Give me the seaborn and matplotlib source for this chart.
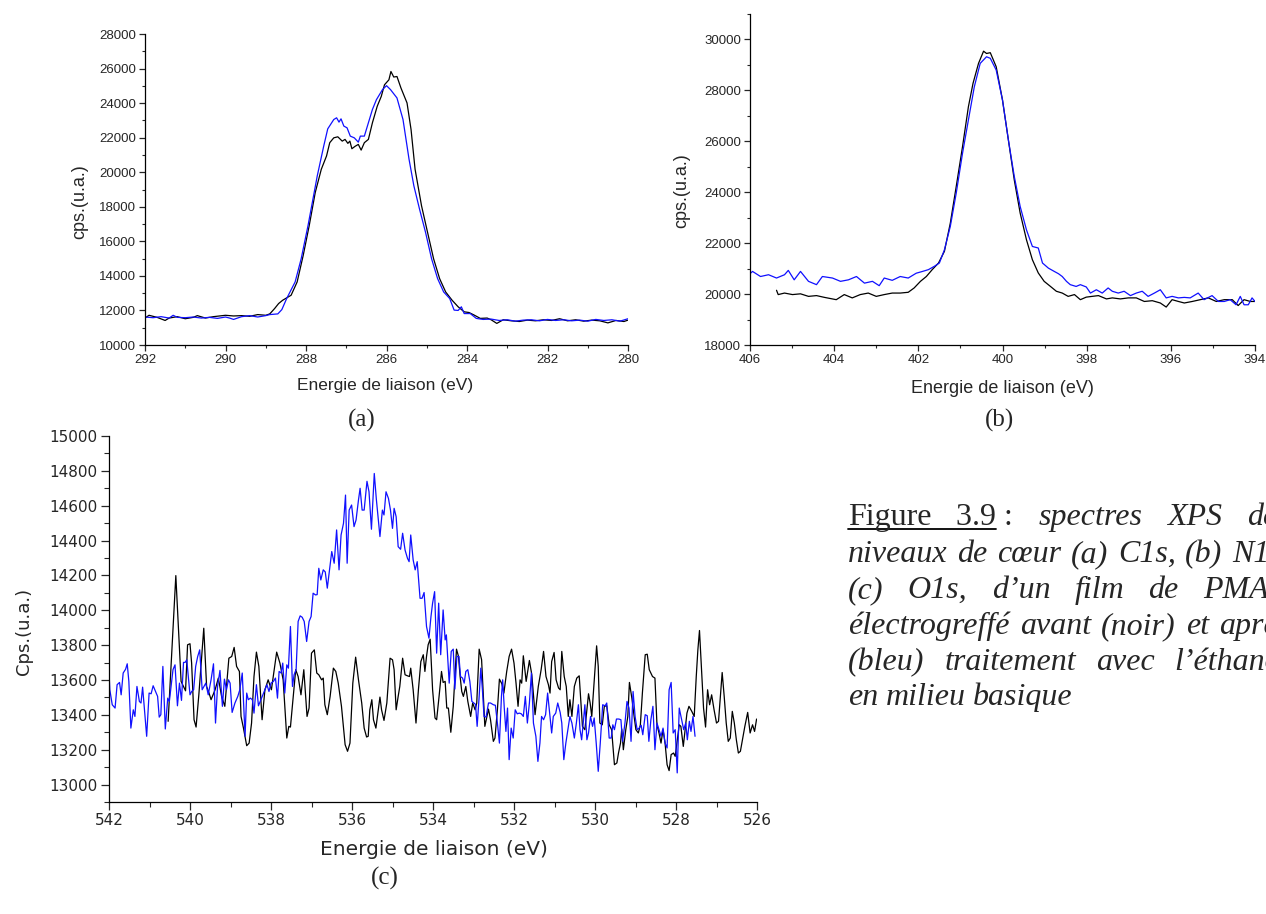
import numpy as np
import pandas as pd
import seaborn as sns
import matplotlib
matplotlib.use("Agg")
import matplotlib.pyplot as plt
from matplotlib.ticker import MultipleLocator
from matplotlib.lines import Line2D

# ---- (a) C1s ----
a_energy_noir = [292.0, 291.9, 291.7, 291.5, 291.4, 291.2, 291.0, 290.8, 290.7, 290.5, 290.3, 290.0,
                 289.8, 289.6, 289.4, 289.2, 289.0, 288.9, 288.78, 288.68, 288.58, 288.37, 288.22,
                 288.07, 287.92, 287.77, 287.62, 287.49, 287.41, 287.31, 287.21, 287.1, 287.03,
                 286.96, 286.91, 286.86, 286.78, 286.7, 286.63, 286.55, 286.45, 286.35, 286.23,
                 286.13, 286.05, 285.94, 285.89, 285.82, 285.74, 285.64, 285.49, 285.39, 285.29,
                 285.13, 284.98, 284.83, 284.68, 284.53, 284.37, 284.22, 284.07, 283.95, 283.82,
                 283.67, 283.5, 283.4, 283.26, 283.1, 282.9, 282.7, 282.5, 282.3, 282.1, 281.9,
                 281.7, 281.5, 281.3, 281.1, 280.9, 280.7, 280.5, 280.3, 280.1, 280.0]
a_cps_noir = [11560, 11720, 11600, 11420, 11560, 11640, 11520, 11600, 11700, 11560, 11640, 11720,
              11680, 11700, 11660, 11760, 11720, 11800, 12110, 12400, 12590, 12880, 13650,
              15180, 16910, 18830, 20170, 20940, 21710, 21990, 22050, 21800, 21900,
              21670, 21800, 21360, 21500, 21610, 21280, 21710, 21900, 22860, 23820,
              24390, 25060, 25350, 25830, 25510, 25540, 24870, 24010, 22470, 20170,
              18060, 16520, 14990, 13840, 13070, 12590, 12210, 11920, 11880, 11730,
              11540, 11560, 11460, 11250, 11460, 11400, 11360, 11440, 11400, 11460, 11420,
              11520, 11400, 11460, 11380, 11440, 11400, 11280, 11420, 11360, 11440]
a_energy_bleu = [292.0, 291.8, 291.6, 291.4, 291.3, 291.2, 291.0, 290.8, 290.6, 290.4, 290.2, 290.0,
                 289.9, 289.8, 289.6, 289.4, 289.2, 289.0, 288.9, 288.7, 288.6, 288.48, 288.27,
                 288.12, 287.95, 287.72, 287.56, 287.46, 287.31, 287.24, 287.18, 287.13, 287.06,
                 286.98, 286.9, 286.8, 286.7, 286.65, 286.55, 286.45, 286.35, 286.25, 286.1,
                 286.0, 285.9, 285.74, 285.59, 285.44, 285.32, 285.18, 285.03, 284.88, 284.73,
                 284.58, 284.43, 284.32, 284.22, 284.14, 284.07, 283.92, 283.77, 283.6, 283.4,
                 283.2, 283.0, 282.8, 282.6, 282.4, 282.2, 282.0, 281.8, 281.6, 281.4, 281.2,
                 281.0, 280.8, 280.6, 280.4, 280.2, 280.0]
a_cps_bleu = [11620, 11580, 11640, 11560, 11720, 11600, 11580, 11620, 11560, 11600, 11540, 11620,
              11560, 11480, 11640, 11700, 11620, 11700, 11760, 11800, 12050, 12690, 13650,
              14990, 16910, 19790, 21510, 22510, 23050, 23150, 22900, 23090, 22670,
              22570, 22090, 21990, 21740, 22090, 22090, 22860, 23630, 24200, 24780,
              25010, 24780, 24300, 23050, 20750, 19210, 17870, 16520, 14990, 13840,
              13070, 12690, 12020, 12000, 12210, 11820, 11820, 11540, 11480, 11500,
              11420, 11460, 11380, 11440, 11460, 11400, 11480, 11420, 11460, 11400, 11440,
              11380, 11480, 11420, 11460, 11380, 11520]

# ---- (b) N1s ----
b_energy_noir = [405.37, 405.33, 405.18, 404.99, 404.8, 404.61, 404.42, 404.23, 403.95, 403.76,
                 403.57, 403.38, 403.19, 403.0, 402.81, 402.62, 402.43, 402.24, 402.1, 401.95,
                 401.81, 401.67, 401.52, 401.38, 401.24, 401.1, 400.95, 400.81, 400.7, 400.57,
                 400.45, 400.38, 400.29, 400.15, 400.0, 399.86, 399.72, 399.58, 399.43, 399.29,
                 399.15, 399.01, 398.86, 398.72, 398.58, 398.44, 398.29, 398.15, 398.01, 397.87,
                 397.72, 397.53, 397.39, 397.2, 397.01, 396.82, 396.63, 396.44, 396.25, 396.11,
                 395.97, 395.82, 395.68, 395.49, 395.3, 395.11, 394.92, 394.73, 394.54, 394.4,
                 394.26, 394.11, 394.0]
b_cps_noir = [20150, 19980, 20040, 19980, 20010, 19910, 19940, 19870, 19780, 19980,
              19850, 19980, 20040, 19910, 19980, 20040, 20040, 20070, 20240, 20500,
              20690, 20960, 21220, 21680, 22790, 24220, 25790, 27360, 28280, 29060,
              29540, 29450, 29480, 28930, 27620, 26050, 24480, 23180, 22130, 21350,
              20830, 20500, 20300, 20110, 20040, 19910, 19980, 19780, 19880, 19910,
              19940, 19810, 19850, 19810, 19850, 19850, 19710, 19740, 19650, 19490,
              19780, 19710, 19650, 19710, 19780, 19850, 19710, 19780, 19780, 19550,
              19780, 19710, 19710]
b_energy_bleu = [406.0, 405.94, 405.75, 405.56, 405.37, 405.18, 405.09, 404.95, 404.8, 404.61,
                 404.42, 404.28, 404.04, 403.85, 403.66, 403.47, 403.28, 403.09, 402.93, 402.81,
                 402.62, 402.43, 402.24, 402.05, 401.9, 401.76, 401.62, 401.5, 401.38, 401.24,
                 401.1, 400.95, 400.81, 400.67, 400.53, 400.38, 400.29, 400.15, 400.0, 399.86,
                 399.72, 399.58, 399.43, 399.29, 399.15, 399.05, 398.91, 398.77, 398.67, 398.58,
                 398.48, 398.39, 398.25, 398.15, 398.01, 397.91, 397.77, 397.63, 397.49, 397.39,
                 397.25, 397.11, 396.96, 396.82, 396.68, 396.54, 396.39, 396.25, 396.11, 395.97,
                 395.82, 395.68, 395.54, 395.35, 395.21, 395.02, 394.87, 394.73, 394.59, 394.45,
                 394.35, 394.26, 394.16, 394.07, 394.0]
b_cps_bleu = [20800, 20890, 20690, 20760, 20630, 20760, 20930, 20560, 20890, 20500,
              20370, 20690, 20630, 20500, 20560, 20690, 20430, 20500, 20330, 20630,
              20540, 20690, 20630, 20820, 20890, 20960, 21090, 21220, 21740, 22660,
              23960, 25530, 26840, 28140, 29060, 29320, 29260, 28800, 27620, 26050,
              24620, 23440, 22520, 21870, 21810, 21220, 21020, 20890, 20800, 20690,
              20500, 20370, 20300, 20370, 20280, 20040, 20170, 20040, 20240, 20110,
              20040, 20110, 19940, 20040, 20110, 19910, 20040, 20170, 19850, 19910,
              19850, 19870, 19850, 20040, 19780, 19940, 19710, 19710, 19780, 19580,
              19910, 19580, 19580, 19850, 19710]

# ---- (c) O1s ----
c_energy_noir = [540.54, 540.35, 540.22, 540.11, 540.06, 540.0, 539.96, 539.9, 539.85, 539.78,
                 539.66, 539.59, 539.53, 539.48, 539.38, 539.3, 539.22, 539.14, 539.04, 538.97,
                 538.91, 538.85, 538.78, 538.74, 538.68, 538.6, 538.54, 538.48, 538.42, 538.36,
                 538.3, 538.22, 538.15, 538.07, 537.99, 537.86, 537.78, 537.7, 537.61, 537.56,
                 537.52, 537.45, 537.39, 537.33, 537.26, 537.19, 537.11, 537.06, 537.0, 536.93,
                 536.87, 536.82, 536.75, 536.71, 536.67, 536.61, 536.54, 536.46, 536.4, 536.34,
                 536.26, 536.17, 536.11, 536.05, 535.98, 535.91, 535.84, 535.76, 535.7, 535.64,
                 535.6, 535.56, 535.51, 535.47, 535.41, 535.35, 535.31, 535.27, 535.21, 535.14,
                 535.06, 535.0, 534.96, 534.91, 534.86, 534.82, 534.75, 534.69, 534.63, 534.58,
                 534.55, 534.49, 534.42, 534.36, 534.3, 534.24, 534.2, 534.16, 534.12, 534.07,
                 534.01, 533.95, 533.91, 533.85, 533.79, 533.75, 533.7, 533.66, 533.62, 533.56,
                 533.5, 533.42, 533.37, 533.33, 533.29, 533.25, 533.19, 533.14, 533.07, 533.02,
                 532.96, 532.92, 532.86, 532.8, 532.72, 532.63, 532.58, 532.51, 532.47, 532.41,
                 532.36, 532.3, 532.25, 532.18, 532.12, 532.06, 532.0, 531.95, 531.9, 531.85,
                 531.81, 531.77, 531.7, 531.62, 531.56, 531.48, 531.4, 531.33, 531.27, 531.21,
                 531.15, 531.11, 531.07, 531.01, 530.96, 530.9, 530.86, 530.82, 530.76, 530.71,
                 530.66, 530.62, 530.57, 530.51, 530.45, 530.39, 530.31, 530.25, 530.16, 530.12,
                 530.08, 529.96, 529.92, 529.88, 529.82, 529.77, 529.71, 529.65, 529.59, 529.52,
                 529.46, 529.42, 529.37, 529.34, 529.3, 529.24, 529.19, 529.15, 529.09, 529.04,
                 528.99, 528.93, 528.88, 528.83, 528.76, 528.71, 528.66, 528.58, 528.52, 528.47,
                 528.42, 528.37, 528.32, 528.27, 528.22, 528.17, 528.12, 528.06, 528.02, 527.92,
                 527.88, 527.82, 527.73, 527.68, 527.61, 527.55, 527.5, 527.46, 527.42, 527.36,
                 527.32, 527.27, 527.22, 527.17, 527.12, 527.06, 527.0, 526.95, 526.91, 526.86,
                 526.81, 526.76, 526.71, 526.66, 526.61, 526.56, 526.51, 526.46, 526.41, 526.3,
                 526.23, 526.17, 526.11, 526.06, 526.01]
c_cps_noir = [13363, 14199, 13592, 13538, 13802, 13808, 13697, 13372, 13330, 13520,
              13897, 13563, 13525, 13487, 13544, 13611, 13506, 13449, 13725, 13735,
              13787, 13678, 13649, 13391, 13324, 13223, 13238, 13353, 13620, 13760,
              13678, 13372, 13544, 13601, 13544, 13760, 13697, 13601, 13267, 13334,
              13330, 13506, 13659, 13620, 13515, 13659, 13391, 13439, 13754, 13773,
              13640, 13630, 13601, 13611, 13458, 13401, 13506, 13668, 13649, 13582,
              13449, 13229, 13191, 13238, 13582, 13731, 13601, 13468, 13324, 13273,
              13277, 13429, 13487, 13372, 13324, 13429, 13502, 13429, 13368, 13468,
              13725, 13716, 13659, 13429, 13506, 13563, 13725, 13630, 13624, 13620,
              13668, 13544, 13353, 13544, 13706, 13745, 13649, 13735, 13802, 13834,
              13544, 13382, 13372, 13506, 13649, 13586, 13592, 13439, 13439, 13300,
              13449, 13777, 13735, 13620, 13534, 13506, 13563, 13477, 13391, 13468,
              13429, 13468, 13777, 13716, 13334, 13433, 13372, 13248, 13267, 13429,
              13605, 13578, 13525, 13649, 13735, 13777, 13697, 13582, 13449, 13601,
              13582, 13739, 13592, 13712, 13630, 13401, 13563, 13659, 13764, 13620,
              13573, 13525, 13706, 13758, 13601, 13554, 13544, 13764, 13620, 13563,
              13391, 13487, 13391, 13563, 13611, 13624, 13334, 13315, 13521, 13468,
              13391, 13796, 13678, 13353, 13343, 13449, 13452, 13343, 13315, 13114,
              13124, 13181, 13238, 13319, 13200, 13315, 13391, 13586, 13496, 13401,
              13315, 13296, 13343, 13525, 13745, 13748, 13659, 13620, 13611, 13343,
              13296, 13238, 13315, 13238, 13114, 13080, 13172, 13181, 13162, 13343,
              13334, 13219, 13410, 13449, 13420, 13391, 13620, 13773, 13884, 13620,
              13439, 13330, 13544, 13458, 13515, 13429, 13353, 13363, 13487, 13643,
              13506, 13353, 13248, 13267, 13420, 13353, 13257, 13181, 13191, 13334,
              13414, 13296, 13343, 13305, 13376]
c_energy_bleu = [542.0, 541.98, 541.92, 541.85, 541.8, 541.74, 541.7, 541.65, 541.59, 541.55,
                 541.51, 541.46, 541.4, 541.36, 541.31, 541.25, 541.21, 541.17, 541.13, 541.07,
                 541.01, 540.96, 540.91, 540.85, 540.8, 540.76, 540.72, 540.67, 540.61, 540.55,
                 540.51, 540.42, 540.37, 540.31, 540.26, 540.21, 540.16, 540.12, 540.08, 540.0,
                 539.96, 539.91, 539.86, 539.81, 539.76, 539.7, 539.61, 539.55, 539.48, 539.42,
                 539.37, 539.32, 539.26, 539.2, 539.15, 539.1, 539.05, 539.01, 538.96, 538.89,
                 538.82, 538.77, 538.71, 538.64, 538.6, 538.56, 538.51, 538.46, 538.42, 538.36,
                 538.31, 538.25, 538.15, 538.1, 538.05, 538.0, 537.94, 537.89, 537.84, 537.8,
                 537.75, 537.71, 537.66, 537.61, 537.57, 537.52, 537.47, 537.43, 537.38, 537.33,
                 537.28, 537.23, 537.18, 537.12, 537.06, 537.01, 536.96, 536.9, 536.86, 536.82,
                 536.77, 536.71, 536.66, 536.61, 536.56, 536.5, 536.44, 536.38, 536.32, 536.27,
                 536.21, 536.16, 536.12, 536.07, 536.01, 535.95, 535.9, 535.84, 535.8, 535.75,
                 535.7, 535.63, 535.58, 535.52, 535.45, 535.4, 535.31, 535.25, 535.21, 535.16,
                 535.1, 535.05, 535.0, 534.96, 534.91, 534.86, 534.8, 534.75, 534.69, 534.63,
                 534.59, 534.55, 534.49, 534.44, 534.39, 534.32, 534.27, 534.22, 534.16, 534.1,
                 534.05, 534.01, 533.96, 533.91, 533.86, 533.81, 533.75, 533.7, 533.67, 533.6,
                 533.55, 533.5, 533.46, 533.41, 533.36, 533.32, 533.27, 533.23, 533.19, 533.14,
                 533.09, 533.04, 532.99, 532.95, 532.91, 532.86, 532.82, 532.78, 532.74, 532.69,
                 532.63, 532.58, 532.51, 532.46, 532.41, 532.36, 532.31, 532.28, 532.24, 532.2,
                 532.16, 532.12, 532.07, 532.02, 531.97, 531.92, 531.87, 531.82, 531.77, 531.72,
                 531.67, 531.62, 531.57, 531.52, 531.46, 531.41, 531.36, 531.32, 531.27, 531.22,
                 531.17, 531.11, 531.07, 531.03, 530.97, 530.92, 530.86, 530.82, 530.77, 530.72,
                 530.67, 530.62, 530.57, 530.51, 530.46, 530.41, 530.37, 530.33, 530.29, 530.25,
                 530.2, 530.16, 530.11, 530.06, 530.02, 529.97, 529.92, 529.87, 529.81, 529.75,
                 529.71, 529.65, 529.6, 529.56, 529.52, 529.47, 529.41, 529.36, 529.32, 529.26,
                 529.21, 529.16, 529.11, 529.06, 529.01, 528.96, 528.91, 528.86, 528.82, 528.76,
                 528.71, 528.67, 528.62, 528.57, 528.52, 528.47, 528.42, 528.37, 528.32, 528.27,
                 528.22, 528.17, 528.12, 528.07, 528.02, 527.97, 527.92, 527.86, 527.81, 527.76,
                 527.72, 527.67, 527.63, 527.58, 527.53]
c_cps_bleu = [13649, 13544, 13458, 13439, 13573, 13586, 13515, 13640, 13662, 13693,
              13592, 13324, 13429, 13391, 13563, 13477, 13468, 13559, 13449, 13277,
              13525, 13521, 13567, 13534, 13506, 13387, 13401, 13678, 13319, 13496,
              13477, 13659, 13687, 13452, 13582, 13483, 13701, 13701, 13716, 13515,
              13534, 13544, 13678, 13735, 13773, 13544, 13582, 13515, 13601, 13693,
              13353, 13563, 13655, 13449, 13605, 13544, 13601, 13582, 13414, 13468,
              13506, 13544, 13640, 13277, 13525, 13487, 13496, 13487, 13410, 13573,
              13452, 13487, 13544, 13573, 13534, 13582, 13592, 13611, 13496, 13649,
              13640, 13697, 13525, 13687, 13668, 13907, 13563, 13630, 13659, 13936,
              13968, 13960, 13936, 13821, 13936, 13964, 14098, 14088, 14090, 14241,
              14174, 14232, 14220, 14127, 14222, 14337, 14270, 14461, 14232, 14432,
              14499, 14661, 14270, 14575, 14604, 14480, 14518, 14633, 14700, 14575,
              14575, 14740, 14680, 14465, 14785, 14640, 14423, 14575, 14547, 14680,
              14642, 14575, 14470, 14585, 14537, 14365, 14350, 14442, 14346, 14298,
              14279, 14432, 14289, 14232, 14279, 14069, 14069, 14102, 13907, 13840,
              13964, 14041, 14107, 13754, 14041, 13745, 14002, 13830, 13859, 13582,
              13764, 13777, 13548, 13735, 13735, 13620, 13611, 13582, 13649, 13659,
              13592, 13477, 13468, 13460, 13334, 13506, 13668, 13544, 13391, 13387,
              13468, 13468, 13458, 13455, 13353, 13238, 13506, 13601, 13439, 13305,
              13439, 13143, 13324, 13267, 13429, 13406, 13410, 13406, 13391, 13506,
              13353, 13468, 13640, 13353, 13277, 13133, 13238, 13391, 13372, 13401,
              13525, 13391, 13296, 13391, 13410, 13468, 13414, 13353, 13143, 13238,
              13315, 13391, 13353, 13267, 13353, 13458, 13315, 13257, 13353, 13458,
              13257, 13296, 13391, 13334, 13382, 13238, 13076, 13238, 13458, 13452,
              13468, 13267, 13267, 13343, 13315, 13376, 13376, 13372, 13248, 13353,
              13477, 13439, 13248, 13534, 13391, 13315, 13324, 13340, 13286, 13401,
              13395, 13248, 13372, 13449, 13200, 13353, 13315, 13277, 13324, 13238,
              13210, 13544, 13586, 13296, 13315, 13067, 13439, 13372, 13315, 13353,
              13257, 13363, 13305, 13391, 13277]

xlabel = "Energie de liaison (eV)"

# caption words, one list per line; 'n' = upright, 'i' = italic
caption = [
    [("Figure", 'n'), ("3.9 :", 'n'), ("spectres", 'i'), ("XPS", 'i'), ("des", 'i')],
    [("niveaux", 'i'), ("de", 'i'), ("cœur", 'i'), ("(a)", 'i'), ("C1s,", 'i'), ("(b)", 'i'), ("N1s,", 'i')],
    [("(c)", 'i'), ("O1s,", 'i'), ("d’un", 'i'), ("film", 'i'), ("de", 'i'), ("PMAN", 'i')],
    [("électrogreffé", 'i'), ("avant", 'i'), ("(noir)", 'i'), ("et", 'i'), ("après", 'i')],
    [("(bleu)", 'i'), ("traitement", 'i'), ("avec", 'i'), ("l’éthanol", 'i')],
    [("en", 'i'), ("milieu", 'i'), ("basique", 'i')],
]

sns.set_style("ticks")
plt.rcParams['font.family'] = ['Liberation Sans', 'DejaVu Sans']

W, H = 1266, 914
fig = plt.figure(figsize=(W / 100, H / 100), dpi=100)


def box(l, t, r, b):
    return [l / W, 1 - b / H, (r - l) / W, (b - t) / H]


def style(ax, xlim, ylim, xmaj, ymaj, ylab, tsize, lsize, ysize, ylc, xlc, fam):
    ax.set_xlim(*xlim)
    ax.set_ylim(*ylim)
    ax.xaxis.set_major_locator(MultipleLocator(xmaj))
    ax.xaxis.set_minor_locator(MultipleLocator(xmaj / 2))
    ax.yaxis.set_major_locator(MultipleLocator(ymaj))
    ax.yaxis.set_minor_locator(MultipleLocator(ymaj / 2))
    ax.tick_params(which='major', direction='out', length=4.5, width=0.9, labelsize=tsize, pad=2)
    ax.tick_params(which='minor', direction='out', length=2.5, width=0.8)
    for lab in ax.get_xticklabels() + ax.get_yticklabels():
        lab.set_family(fam)
    sns.despine(ax=ax)
    for s in ['left', 'bottom']:
        ax.spines[s].set_linewidth(0.9)
        ax.spines[s].set_color('black')
    ax.set_xlabel(xlabel, fontsize=lsize, family=fam)
    ax.set_ylabel(ylab, fontsize=ysize, family=fam)
    ax.yaxis.set_label_coords(*ylc)
    ax.xaxis.set_label_coords(*xlc)
    ax.grid(False)


def draw(ax, e_n, c_n, e_b, c_b):
    sns.lineplot(x=e_n, y=c_n, ax=ax, color='black', lw=0.9, sort=False, estimator=None)
    sns.lineplot(x=e_b, y=c_b, ax=ax, color='#1010ff', lw=0.9, sort=False, estimator=None)


ax_a = fig.add_axes(box(145, 34, 628, 345))
draw(ax_a, a_energy_noir, a_cps_noir, a_energy_bleu, a_cps_bleu)
style(ax_a, (292, 280), (10000, 28000), 2, 2000, "cps.(u.a.)", 9.5, 12.5, 13,
      (-0.118, 0.46), (0.497, -0.105), ['Liberation Sans'])

ax_b = fig.add_axes(box(750, 14, 1255, 345))
draw(ax_b, b_energy_noir, b_cps_noir, b_energy_bleu, b_cps_bleu)
style(ax_b, (406, 394), (18000, 31000), 2, 2000, "cps.(u.a.)", 9.5, 13, 13,
      (-0.119, 0.465), (0.499, -0.105), ['Liberation Sans'])

ax_c = fig.add_axes(box(109, 436, 757, 802))
draw(ax_c, c_energy_noir, c_cps_noir, c_energy_bleu, c_cps_bleu)
style(ax_c, (542, 526), (12900, 15000), 2, 200, "Cps.(u.a.)", 11, 14.5, 13,
      (-0.117, 0.467), (0.502, -0.105), ['DejaVu Sans'])
ax_c.yaxis.set_major_locator(plt.FixedLocator(np.arange(13000, 15001, 200)))
ax_c.yaxis.set_minor_locator(plt.FixedLocator(np.arange(12900, 15001, 100)))
ax_c.tick_params(which='major', length=6)
ax_c.tick_params(which='minor', length=3.5)

serif = ['Liberation Serif', 'DejaVu Serif']
for lab, (px, py) in zip(["(a)", "(b)", "(c)"], [(362, 420), (1000, 420), (385, 878)]):
    fig.text(px / W, 1 - py / H, lab, family=serif, fontsize=18, ha='center', va='center')

# justified caption block (right margin lies past the picture edge, as in the page)
renderer = fig.canvas.get_renderer()
x_left, x_right = 848, 1290
baselines = [525, 562, 598, 634, 670, 705]
underline_end = None
for i, (words, yb) in enumerate(zip(caption, baselines)):
    texts = [fig.text(0, 1 - yb / H, w, family=serif, fontsize=23,
                      style='italic' if s == 'i' else 'normal', ha='left', va='baseline')
             for w, s in words]
    widths = [t.get_window_extent(renderer).width for t in texts]
    if i < len(caption) - 1:
        gap = (x_right - x_left - sum(widths)) / (len(words) - 1)
    else:
        gap = 7.5
    x = x_left
    for t, w in zip(texts, widths):
        t.set_x(x / W)
        x += w + gap
    if i == 0:
        probe = fig.text(0, 0, "3.9", family=serif, fontsize=23)
        w39 = probe.get_window_extent(renderer).width
        probe.remove()
        underline_end = x_left + widths[0] + gap + w39

fig.add_artist(Line2D([x_left / W, underline_end / W], [1 - 529 / H, 1 - 529 / H],
                      color='black', lw=1.3))

fig.savefig("out.png", dpi=100)
